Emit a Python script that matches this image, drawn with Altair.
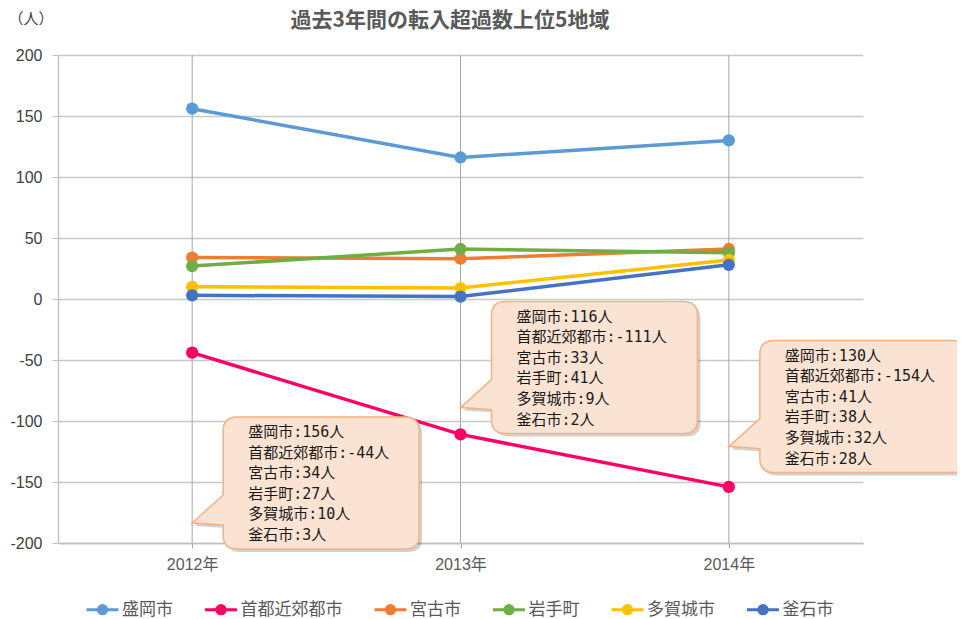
import altair as alt
import pandas as pd

# ---- data ----
years = ["2012年", "2013年", "2014年"]
regions = ["盛岡市", "首都近郊都市", "宮古市", "岩手町", "多賀城市", "釜石市"]
colors = ["#5B9BD5", "#FF0066", "#ED7D31", "#70AD47", "#FFC000", "#4472C4"]
v2012 = [156, -44, 34, 27, 10, 3]
v2013 = [116, -111, 33, 41, 9, 2]
v2014 = [130, -154, 41, 38, 32, 28]
y_ticks = [-200, -150, -100, -50, 0, 50, 100, 150, 200]

# callout pointer tips (data y) and bubble widths (px)
callout_tip = [-183.6, -89, -121]
callout_width = [196, 206, 206]

title_text = "過去3年間の転入超過数上位5地域"
unit_text = "（人）"

# ---- tables ----
by_year = [v2012, v2013, v2014]
rows = []
for ri, r in enumerate(regions):
    for yi, y in enumerate(years):
        rows.append({"year": y, "value": by_year[yi][ri], "region": r, "order": ri})
df = pd.DataFrame(rows)


def bubble(w, ox=0, oy=0):
    L, T, B, rr, y1, y2 = 31, -106, 26, 14, -28, 2
    R = L + w
    pts = [
        f"M{L+rr+ox},{T+oy}", f"H{R-rr+ox}", f"Q{R+ox},{T+oy} {R+ox},{T+rr+oy}",
        f"V{B-rr+oy}", f"Q{R+ox},{B+oy} {R-rr+ox},{B+oy}", f"H{L+rr+ox}",
        f"Q{L+ox},{B+oy} {L+ox},{B-rr+oy}", f"V{y2+oy}", f"L{0+ox},{0+oy}",
        f"L{L+ox},{y1+oy}", f"V{T+rr+oy}", f"Q{L+ox},{T+oy} {L+rr+ox},{T+oy}", "Z",
    ]
    return " ".join(pts)


cdf = pd.DataFrame({
    "year": years,
    "value": callout_tip,
    "path": [bubble(w) for w in callout_width],
    "shadow": [bubble(w, 3, 3) for w in callout_width],
    "label": ["\n".join(f"{r}:{by_year[yi][ri]}人" for ri, r in enumerate(regions))
              for yi in range(len(years))],
})
gdf = pd.DataFrame({"year": years})

legend_path = ("M-1,0 L1,0 M0.26,0 A0.26,0.26 0 1,1 -0.26,0 "
               "A0.26,0.26 0 1,1 0.26,0 Z")

x_enc = alt.X("year:N", sort=years,
              scale=alt.Scale(type="point", padding=0.5, domain=years),
              axis=alt.Axis(title=None, labelAngle=0, labelFontSize=16,
                            labelColor="#595959",
                            labelFont="Liberation Sans, Noto Sans CJK JP",
                            grid=False, tickExtra=False,
                            domainColor="#BFBFBF", domainWidth=1.3,
                            tickColor="#A6A6A6", tickSize=5, labelPadding=8))
y_enc = alt.Y("value:Q", scale=alt.Scale(domain=[-200, 200], nice=False, zero=False),
              axis=alt.Axis(values=y_ticks, labelExpr="'' + datum.value",
                            title=unit_text, titleAngle=0, titleAlign="left",
                            titleBaseline="middle", titleX=-50, titleY=-37,
                            titleFontSize=15, titleFontWeight="normal",
                            titleColor="#404040", titleFont="Noto Sans CJK JP",
                            labelFontSize=16, labelColor="#404040",
                            labelFont="Liberation Sans", labelPadding=10,
                            grid=True, gridColor="#C8C8C8", gridWidth=1.3,
                            domainColor="#BFBFBF", domainWidth=1.3,
                            tickColor="#BFBFBF", tickSize=6))


def make_legend():
    return alt.Legend(title=None, orient="none", direction="horizontal",
                      legendX=27, legendY=537, symbolType=legend_path,
                      symbolSize=1024, symbolStrokeWidth=3, labelFontSize=17,
                      labelColor="#595959", labelFont="Noto Sans CJK JP",
                      labelOffset=2, columnPadding=25.5)


stroke_enc = alt.Stroke("region:N", scale=alt.Scale(domain=regions, range=colors),
                        legend=make_legend())
fill_enc = alt.Fill("region:N", scale=alt.Scale(domain=regions, range=colors),
                    legend=make_legend())

vgrid = alt.Chart(gdf).mark_rule(color="#A6A6A6", strokeWidth=1).encode(
    x=x_enc, y=alt.value(0), y2=alt.value(488))
lines = alt.Chart(df).mark_line(strokeWidth=3.5).encode(
    x=x_enc, y=y_enc, stroke=stroke_enc, detail="region:N", order="order:Q")
points = alt.Chart(df).mark_point(filled=True, size=150, opacity=1).encode(
    x=x_enc, y="value:Q", fill=fill_enc)

shadow = alt.Chart(cdf).mark_point(filled=True, size=4, fill="#000000",
                                    fillOpacity=0.18, strokeOpacity=0).encode(
    x=x_enc, y="value:Q", shape=alt.Shape("shadow:N", scale=None))
bubbles = alt.Chart(cdf).mark_point(filled=True, size=4, fill="#FBE3D3",
                                     fillOpacity=1, stroke="#F4B183",
                                     strokeWidth=1.5, opacity=1).encode(
    x=x_enc, y="value:Q", shape=alt.Shape("path:N", scale=None))
texts = alt.Chart(cdf).mark_text(align="left", baseline="top", dx=56, dy=-98,
                                 lineBreak="\n", lineHeight=20.6, fontSize=15,
                                 font="DejaVu Sans Mono, Noto Sans CJK JP",
                                 color="#1A1A1A").encode(
    x=x_enc, y="value:Q", text="label:N")

title = alt.Chart(pd.DataFrame({"t": [title_text]})).mark_text(
    fontSize=21, fontWeight="bold", color="#595959", font="Noto Sans CJK JP",
    align="center", baseline="middle").encode(
    text="t:N", x=alt.value(392), y=alt.value(-34))

chart = alt.layer(vgrid, lines, points, shadow, bubbles, texts, title).properties(
    width=805, height=488,
    padding={"left": 50, "top": 47, "right": 94, "bottom": 76},
    autosize=alt.AutoSizeParams(type="none"),
    background="white",
    view=alt.ViewBackground(stroke="transparent", strokeWidth=0),
).configure_view(stroke="transparent", strokeWidth=0)

chart.save("out.html", embed_options={"renderer": "svg", "actions": False})
